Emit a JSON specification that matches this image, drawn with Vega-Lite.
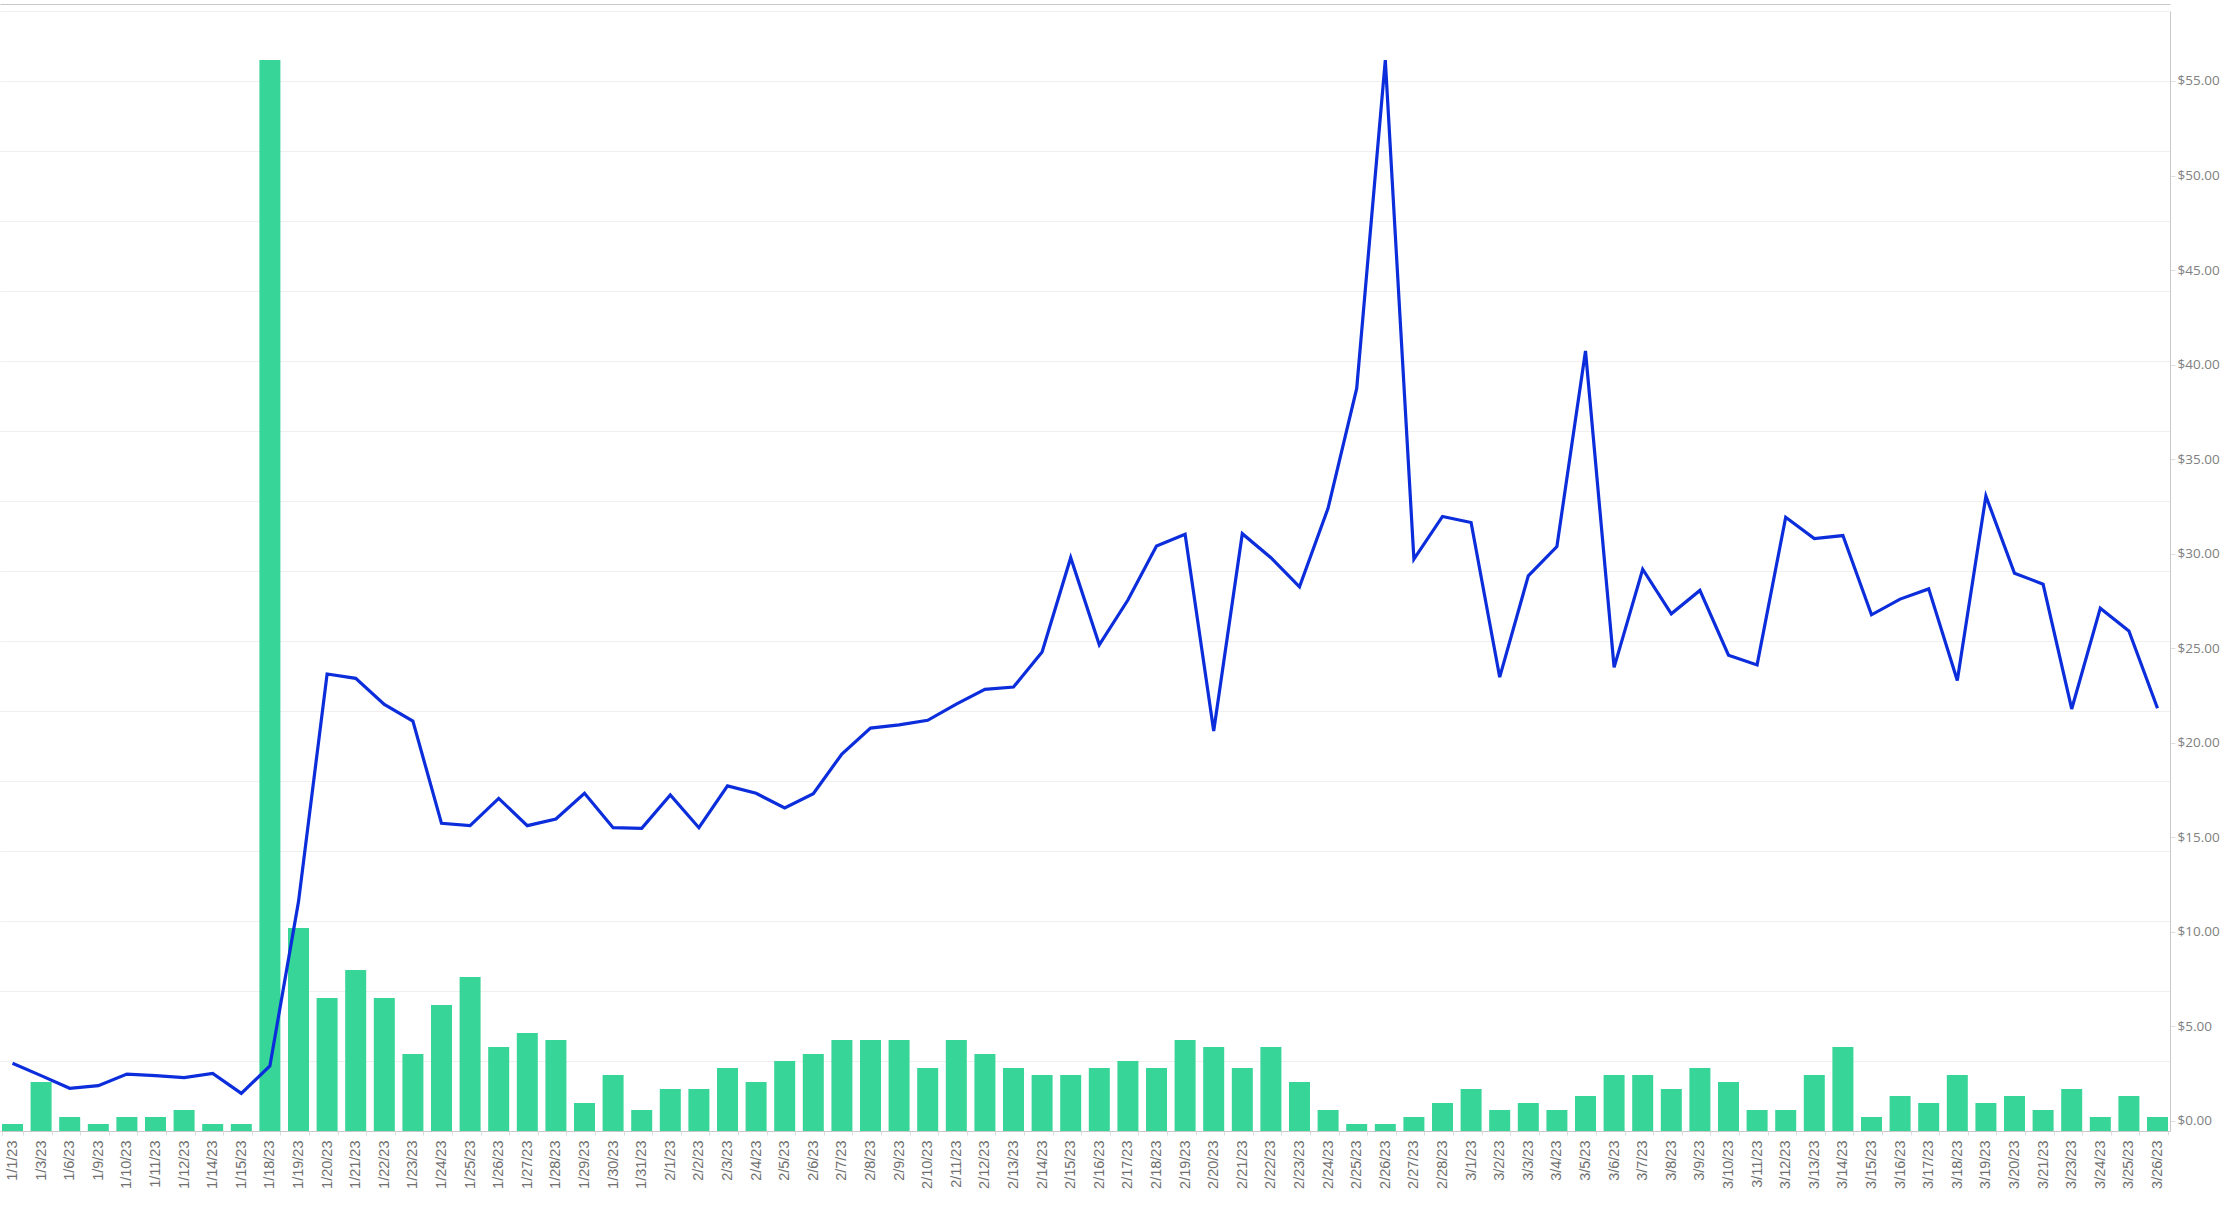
{
  "$schema": "https://vega.github.io/schema/vega-lite/v6.json",
  "width": 2170,
  "height": 1120,
  "autosize": {"type": "none"},
  "padding": {"left": 0, "top": 11, "right": 63, "bottom": 74},
  "background": "white",
  "config": {"view": {"stroke": null}},
  "data": {
    "values": [
      {"date": "1/1/23", "orders": 1, "price": 3.05},
      {"date": "1/3/23", "orders": 7, "price": 2.40},
      {"date": "1/6/23", "orders": 2, "price": 1.73},
      {"date": "1/9/23", "orders": 1, "price": 1.87},
      {"date": "1/10/23", "orders": 2, "price": 2.48},
      {"date": "1/11/23", "orders": 2, "price": 2.40},
      {"date": "1/12/23", "orders": 3, "price": 2.29},
      {"date": "1/14/23", "orders": 1, "price": 2.52},
      {"date": "1/15/23", "orders": 1, "price": 1.46},
      {"date": "1/18/23", "orders": 153, "price": 2.91},
      {"date": "1/19/23", "orders": 29, "price": 11.6},
      {"date": "1/20/23", "orders": 19, "price": 23.64},
      {"date": "1/21/23", "orders": 23, "price": 23.41},
      {"date": "1/22/23", "orders": 19, "price": 22.03},
      {"date": "1/23/23", "orders": 11, "price": 21.15},
      {"date": "1/24/23", "orders": 18, "price": 15.74},
      {"date": "1/25/23", "orders": 22, "price": 15.62},
      {"date": "1/26/23", "orders": 12, "price": 17.06},
      {"date": "1/27/23", "orders": 14, "price": 15.62},
      {"date": "1/28/23", "orders": 13, "price": 15.97},
      {"date": "1/29/23", "orders": 4, "price": 17.33},
      {"date": "1/30/23", "orders": 8, "price": 15.51},
      {"date": "1/31/23", "orders": 3, "price": 15.48},
      {"date": "2/1/23", "orders": 6, "price": 17.24},
      {"date": "2/2/23", "orders": 6, "price": 15.51},
      {"date": "2/3/23", "orders": 9, "price": 17.72},
      {"date": "2/4/23", "orders": 7, "price": 17.33},
      {"date": "2/5/23", "orders": 10, "price": 16.55},
      {"date": "2/6/23", "orders": 11, "price": 17.31},
      {"date": "2/7/23", "orders": 13, "price": 19.41},
      {"date": "2/8/23", "orders": 13, "price": 20.78},
      {"date": "2/9/23", "orders": 13, "price": 20.95},
      {"date": "2/10/23", "orders": 9, "price": 21.19},
      {"date": "2/11/23", "orders": 13, "price": 22.05},
      {"date": "2/12/23", "orders": 11, "price": 22.83},
      {"date": "2/13/23", "orders": 9, "price": 22.95},
      {"date": "2/14/23", "orders": 8, "price": 24.80},
      {"date": "2/15/23", "orders": 8, "price": 29.79},
      {"date": "2/16/23", "orders": 9, "price": 25.18},
      {"date": "2/17/23", "orders": 10, "price": 27.55},
      {"date": "2/18/23", "orders": 9, "price": 30.41},
      {"date": "2/19/23", "orders": 13, "price": 31.03},
      {"date": "2/20/23", "orders": 12, "price": 20.62},
      {"date": "2/21/23", "orders": 9, "price": 31.06},
      {"date": "2/22/23", "orders": 12, "price": 29.79},
      {"date": "2/23/23", "orders": 7, "price": 28.25},
      {"date": "2/24/23", "orders": 3, "price": 32.41},
      {"date": "2/25/23", "orders": 1, "price": 38.74},
      {"date": "2/26/23", "orders": 1, "price": 56.1},
      {"date": "2/27/23", "orders": 2, "price": 29.71},
      {"date": "2/28/23", "orders": 4, "price": 31.97},
      {"date": "3/1/23", "orders": 6, "price": 31.65},
      {"date": "3/2/23", "orders": 3, "price": 23.47},
      {"date": "3/3/23", "orders": 4, "price": 28.83},
      {"date": "3/4/23", "orders": 3, "price": 30.38},
      {"date": "3/5/23", "orders": 5, "price": 40.72},
      {"date": "3/6/23", "orders": 8, "price": 23.99},
      {"date": "3/7/23", "orders": 8, "price": 29.18},
      {"date": "3/8/23", "orders": 6, "price": 26.82},
      {"date": "3/9/23", "orders": 9, "price": 28.06},
      {"date": "3/10/23", "orders": 7, "price": 24.63},
      {"date": "3/11/23", "orders": 3, "price": 24.12},
      {"date": "3/12/23", "orders": 3, "price": 31.93},
      {"date": "3/13/23", "orders": 8, "price": 30.80},
      {"date": "3/14/23", "orders": 12, "price": 30.96},
      {"date": "3/15/23", "orders": 2, "price": 26.77},
      {"date": "3/16/23", "orders": 5, "price": 27.60},
      {"date": "3/17/23", "orders": 4, "price": 28.14},
      {"date": "3/18/23", "orders": 8, "price": 23.29},
      {"date": "3/19/23", "orders": 4, "price": 33.05},
      {"date": "3/20/23", "orders": 5, "price": 28.97},
      {"date": "3/21/23", "orders": 3, "price": 28.39},
      {"date": "3/23/23", "orders": 6, "price": 21.79},
      {"date": "3/24/23", "orders": 2, "price": 27.12},
      {"date": "3/25/23", "orders": 5, "price": 25.91},
      {"date": "3/26/23", "orders": 2, "price": 21.83}
    ]
  },
  "layer": [
    {
      "mark": {"type": "bar", "color": "#37d597"},
      "encoding": {
        "x": {
          "field": "date",
          "type": "ordinal",
          "sort": null,
          "scale": {"paddingInner": 0.266, "paddingOuter": 0.07},
          "axis": {
            "orient": "bottom",
            "title": null,
            "labelAngle": 270,
            "labelFont": "Liberation Sans",
            "labelFontSize": 14.5,
            "labelColor": "#707070",
            "labelPadding": 5,
            "labelOverlap": false,
            "tickSize": 4,
            "tickColor": "#dddddd",
            "tickBand": "extent",
            "domainColor": "#c8c8c8",
            "grid": false
          }
        },
        "y": {
          "field": "orders",
          "type": "quantitative",
          "scale": {"domain": [0, 160], "nice": false},
          "axis": {
            "orient": "left",
            "title": null,
            "values": [0, 10, 20, 30, 40, 50, 60, 70, 80, 90, 100, 110, 120, 130, 140, 150, 160],
            "labels": false,
            "ticks": false,
            "domain": false,
            "grid": true,
            "gridColor": "#efefef",
            "gridWidth": 1
          }
        }
      }
    },
    {
      "mark": {"type": "line", "color": "#0b2ddb", "strokeWidth": 3.2},
      "encoding": {
        "x": {
          "field": "date",
          "type": "ordinal",
          "sort": null,
          "axis": {
            "orient": "top",
            "title": null,
            "labels": false,
            "ticks": false,
            "domain": true,
            "domainColor": "#c8c8c8",
            "domainWidth": 1.2,
            "offset": 7,
            "grid": false
          }
        },
        "y": {
          "field": "price",
          "type": "quantitative",
          "scale": {"domain": [-0.529, 58.7], "nice": false, "zero": false},
          "axis": {
            "orient": "right",
            "title": null,
            "values": [0, 5, 10, 15, 20, 25, 30, 35, 40, 45, 50, 55],
            "format": "$.2f",
            "labelFont": "Open Sans",
            "labelFontSize": 13.5,
            "labelColor": "#808080",
            "labelPadding": 2,
            "tickSize": 5,
            "tickColor": "#e0e0e0",
            "domainColor": "#c8c8c8",
            "grid": false
          }
        }
      }
    }
  ],
  "resolve": {"scale": {"y": "independent"}, "axis": {"x": "independent"}}
}
